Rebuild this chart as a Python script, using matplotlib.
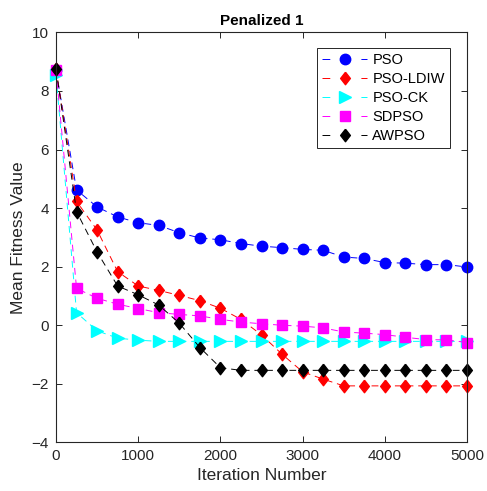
import numpy as np
import matplotlib.pyplot as plt

plt.rcParams['font.family'] = ['Liberation Sans', 'DejaVu Sans']

# iterations where markers were recorded
iters = [0, 250, 500, 750, 1000, 1250, 1500, 1750, 2000, 2250, 2500,
         2750, 3000, 3250, 3500, 3750, 4000, 4250, 4500, 4750, 5000]

pso = [8.7, 4.62, 4.04, 3.70, 3.50, 3.41, 3.16, 2.98, 2.92, 2.79, 2.70,
       2.65, 2.59, 2.56, 2.33, 2.28, 2.14, 2.12, 2.07, 2.07, 1.99]
pso_ldiw = [8.75, 4.23, 3.25, 1.83, 1.34, 1.19, 1.02, 0.84, 0.58, 0.2, -0.33,
            -0.99, -1.59, -1.84, -2.07, -2.07, -2.07, -2.07, -2.07, -2.07, -2.07]
pso_ck = [8.55, 0.43, -0.19, -0.44, -0.51, -0.55, -0.55, -0.55, -0.55, -0.55, -0.55,
          -0.55, -0.55, -0.55, -0.55, -0.55, -0.55, -0.55, -0.55, -0.55, -0.55]
sdpso = [8.7, 1.26, 0.92, 0.72, 0.57, 0.43, 0.37, 0.32, 0.2, 0.11, 0.05,
         0.0, -0.03, -0.09, -0.23, -0.27, -0.32, -0.41, -0.49, -0.5, -0.59]
awpso = [8.75, 3.88, 2.5, 1.34, 1.04, 0.69, 0.07, -0.76, -1.45, -1.54, -1.54,
         -1.54, -1.54, -1.54, -1.54, -1.54, -1.54, -1.54, -1.54, -1.54, -1.54]

labels = ['PSO', 'PSO-LDIW', 'PSO-CK', 'SDPSO', 'AWPSO']
colors = ['#0000ff', '#ff0000', '#00ffff', '#ff00ff', '#000000']

# matlab style diamond (taller than wide)
diamond = [(0, 1), (0.78, 0), (0, -1), (-0.78, 0), (0, 1)]
markers = ['o', diamond, '>', 's', diamond]
msizes = [7.5, 9, 8, 6.5, 9]

fig = plt.figure(figsize=(4.87, 4.91), dpi=100)
ax = fig.add_axes([0.115, 0.099, 0.844, 0.835])

for y, lab, c, m, ms in zip([pso, pso_ldiw, pso_ck, sdpso, awpso], labels, colors, markers, msizes):
    ax.plot(iters, y, linestyle=(0, (7, 5)), linewidth=0.7, color=c,
            marker=m, markersize=ms, markerfacecolor=c, markeredgecolor=c,
            label=lab, clip_on=False)

ax.set_xlim(0, 5000)
ax.set_ylim(-4, 10)
ax.set_xticks(np.arange(0, 5001, 1000))
ax.set_yticks(np.arange(-4, 11, 2))

axcol = '#262626'
for s in ax.spines.values():
    s.set_color(axcol)
    s.set_linewidth(0.8)
ax.tick_params(direction='in', length=4, width=0.7, colors=axcol,
               labelsize=11, top=True, right=True, pad=5)

ax.set_xlabel('Iteration Number', fontsize=12.5, color=axcol, labelpad=3)
ax.set_ylabel('Mean Fitness Value', fontsize=12.5, color=axcol, labelpad=4)
ax.set_title('Penalized 1', fontsize=11, fontweight='bold', pad=5)

leg = ax.legend(loc='upper right', bbox_to_anchor=(0.958, 0.963), fontsize=10.5,
                handlelength=3.1, handletextpad=0.35, borderpad=0.35,
                labelspacing=0.35, fancybox=False, framealpha=1,
                borderaxespad=0)
leg.get_frame().set_edgecolor(axcol)
leg.get_frame().set_linewidth(0.7)
# dash - marker - dash look in the legend handles
for h in leg.legend_handles:
    h.set_linestyle((0, (8, 12)))

fig.savefig('out.png', dpi=100)
